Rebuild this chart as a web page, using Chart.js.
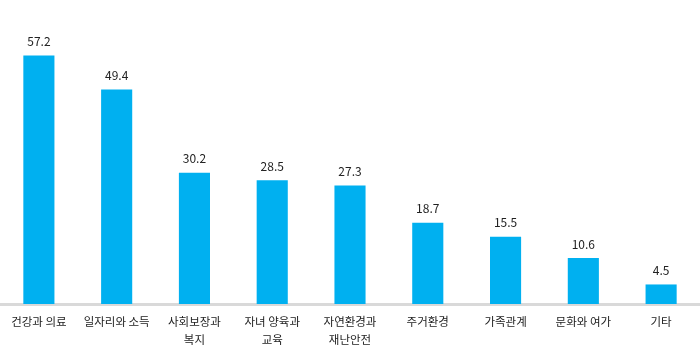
<!DOCTYPE html>
<html>
<head>
<meta charset="utf-8">
<script src="https://cdn.jsdelivr.net/npm/chart.js@4"></script>
<style>
  html, body { margin: 0; padding: 0; background: #fff; }
  #wrap { width: 700px; height: 350px; }
</style>
</head>
<body>
<div id="wrap"><canvas id="barChart"></canvas></div>
<script>
// 분야별 응답 비율 (%)
const CATEGORIES = [
    '건강과 의료',
    '일자리와 소득',
    ['사회보장과', '복지'],
    ['자녀 양육과', '교육'],
    ['자연환경과', '재난안전'],
    '주거환경',
    '가족관계',
    '문화와 여가',
    '기타'
];
const VALUES = [57.2, 49.4, 30.2, 28.5, 27.3, 18.7, 15.5, 10.6, 4.5];
const Y_MIN = 0;
const Y_MAX = 70;

const FONT = '"Noto Sans CJK KR", "Noto Sans", sans-serif';

// value labels above bars
const valueLabels = {
    id: 'valueLabels',
    afterDatasetsDraw(chart) {
        const ctx = chart.ctx;
        const meta = chart.getDatasetMeta(0);
        ctx.save();
        ctx.font = '12px ' + FONT;
        ctx.fillStyle = '#222';
        ctx.textAlign = 'center';
        ctx.textBaseline = 'middle';
        meta.data.forEach((bar, i) => {
            ctx.fillText(VALUES[i].toFixed(1), bar.x, bar.y - 14);
        });
        ctx.restore();
    }
};

new Chart(document.getElementById('barChart'), {
    type: 'bar',
    data: {
        labels: CATEGORIES,
        datasets: [{
            data: VALUES,
            backgroundColor: '#00B0F0',
            categoryPercentage: 1,
            barPercentage: 0.4
        }]
    },
    options: {
        responsive: true,
        maintainAspectRatio: false,
        animation: false,
        layout: { padding: { top: 0, left: 0, right: 0, bottom: 0 } },
        plugins: {
            legend: { display: false },
            tooltip: { enabled: false }
        },
        scales: {
            x: {
                grid: { display: false, drawTicks: false },
                border: { display: true, color: '#D9D9D9', width: 3 },
                ticks: {
                    padding: 9,
                    color: '#222',
                    maxRotation: 0,
                    autoSkip: false,
                    font: { family: FONT, size: 11.5, lineHeight: 1.55 }
                },
                afterFit(scale) { scale.height = 46; }
            },
            y: {
                display: false,
                min: Y_MIN,
                max: Y_MAX
            }
        }
    },
    plugins: [valueLabels]
});
</script>
</body>
</html>
